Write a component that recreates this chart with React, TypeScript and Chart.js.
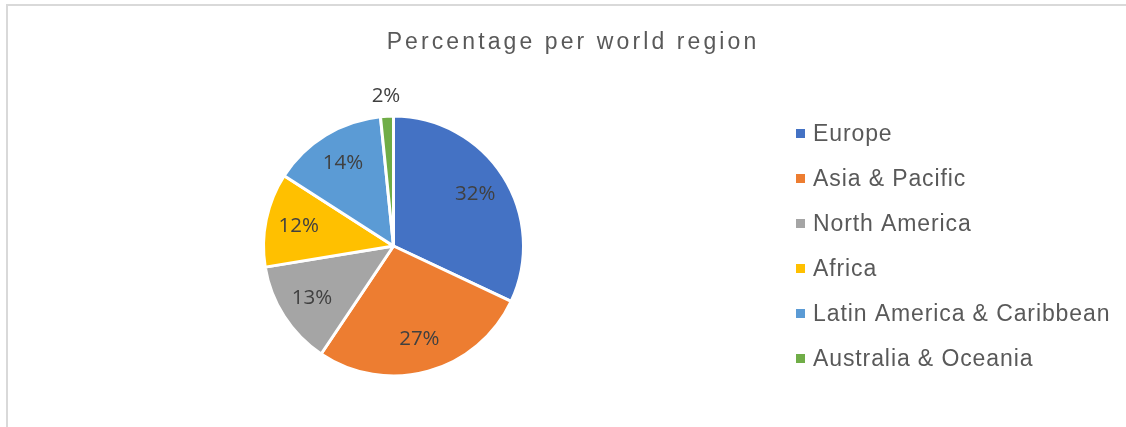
import React, { useEffect, useRef } from "react";
import { Chart, registerables } from "chart.js";

Chart.register(...registerables);

const TITLE = "Percentage per world region";
const regions = [
  "Europe",
  "Asia & Pacific",
  "North America",
  "Africa",
  "Latin America & Caribbean",
  "Australia & Oceania",
];
const shares = [32.0, 27.4, 13.0, 11.7, 14.3, 1.6];
const colors = ["#4472C4", "#ED7D31", "#A5A5A5", "#FFC000", "#5B9BD5", "#70AD47"];

const overlayPlugin = {
  id: "overlay",
  afterDraw(chart: any) {
    const ctx: CanvasRenderingContext2D = chart.ctx;
    const ds = chart.data.datasets[0];
    const values: number[] = ds.data as number[];
    const total = values.reduce((a, b) => a + b, 0);

    // Title
    ctx.save();
    ctx.font = '23px "Liberation Sans", Arial, sans-serif';
    (ctx as any).letterSpacing = "3.1px";
    ctx.fillStyle = "#595959";
    ctx.textAlign = "center";
    ctx.textBaseline = "alphabetic";
    ctx.fillText(TITLE, 573, 48.5);
    ctx.restore();

    // Data labels
    const meta = chart.getDatasetMeta(0);
    ctx.save();
    ctx.font = '20.5px "Open Sans", sans-serif';
    ctx.fillStyle = "#404040";
    ctx.textAlign = "center";
    ctx.textBaseline = "middle";
    meta.data.forEach((arc: any, i: number) => {
      const p = arc.getProps(["x", "y", "startAngle", "endAngle", "outerRadius"], true);
      const mid = (p.startAngle + p.endAngle) / 2;
      const pct = (values[i] / total) * 100;
      const r = pct < 5 ? p.outerRadius + 20 : p.outerRadius * 0.745;
      const lx = p.x + Math.cos(mid) * r;
      const ly = p.y + Math.sin(mid) * r;
      ctx.fillText(Math.round(pct) + "%", lx, ly);
    });
    ctx.restore();

    // Legend
    ctx.save();
    ctx.font = '23px "Liberation Sans", Arial, sans-serif';
    (ctx as any).letterSpacing = "0.9px";
    ctx.textAlign = "left";
    ctx.textBaseline = "alphabetic";
    const labels: string[] = chart.data.labels as string[];
    labels.forEach((lab, i) => {
      const base = 141 + i * 45;
      ctx.fillStyle = (ds.backgroundColor as string[])[i];
      ctx.fillRect(796, base - 12, 9, 9);
      ctx.fillStyle = "#595959";
      ctx.fillText(lab, 813, base);
    });
    ctx.restore();
  },
};

export default function App() {
  const ref = useRef<HTMLCanvasElement | null>(null);

  useEffect(() => {
    if (!ref.current) return;
    const chart = new Chart(ref.current, {
      type: "pie",
      data: {
        labels: regions,
        datasets: [
          {
            data: shares,
            backgroundColor: colors,
            borderColor: "#ffffff",
            borderWidth: 3,
          },
        ],
      },
      options: {
        animation: false,
        responsive: true,
        maintainAspectRatio: false,
        radius: 130,
        layout: { padding: { left: 200, right: 539, top: 100, bottom: 35 } },
        plugins: {
          legend: { display: false },
          title: { display: false },
          tooltip: { enabled: false },
        },
      } as any,
      plugins: [overlayPlugin],
    });
    return () => chart.destroy();
  }, []);

  return (
    <div
      style={{
        position: "absolute",
        left: 0,
        top: 0,
        width: 1126,
        height: 427,
        overflow: "hidden",
        background: "#ffffff",
      }}
    >
      <div
        style={{
          position: "absolute",
          left: 6,
          top: 4,
          width: 1300,
          height: 600,
          borderTop: "2px solid #d9d9d9",
          borderLeft: "2px solid #d9d9d9",
          boxSizing: "border-box",
        }}
      />
      <canvas ref={ref} style={{ position: "absolute", left: 0, top: 0 }} />
    </div>
  );
}
